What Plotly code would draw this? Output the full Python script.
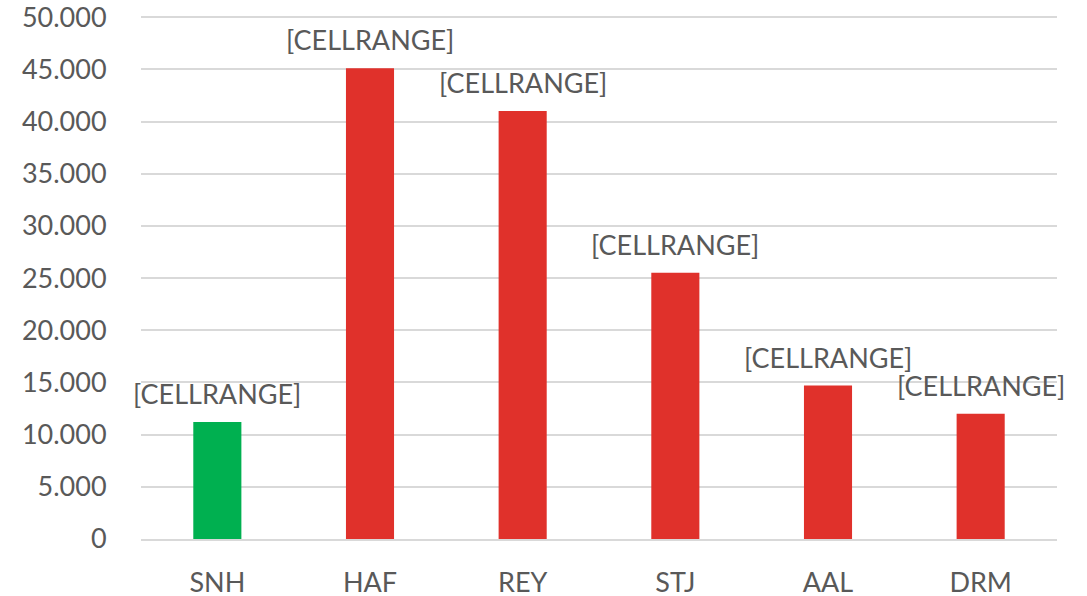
import plotly.graph_objects as go

categories = ["SNH", "HAF", "REY", "STJ", "AAL", "DRM"]
values = [11200, 45100, 41000, 25500, 14700, 12000]
colors = ["#00B050", "#E0312B", "#E0312B", "#E0312B", "#E0312B", "#E0312B"]
labels = ["[CELLRANGE]"] * 6
tick_vals = [0, 5000, 10000, 15000, 20000, 25000, 30000, 35000, 40000, 45000, 50000]

font_family = "Lato"
text_color = "#595959"

fig = go.Figure()
fig.add_trace(go.Bar(
    x=categories, y=values, marker_color=colors, width=0.315,
    marker_line_width=0, hoverinfo="skip",
))
for c, v, t in zip(categories, values, labels):
    fig.add_annotation(x=c, y=v, text=t, showarrow=False, yanchor="bottom",
                       yshift=10, font=dict(family=font_family, size=27, color=text_color))

fig.update_layout(
    width=1087, height=596,
    margin=dict(l=141, r=30, t=14, b=57, autoexpand=False),
    paper_bgcolor="white", plot_bgcolor="white",
    separators=",.",
    showlegend=False,
    font=dict(family=font_family, color=text_color),
)
fig.update_yaxes(
    range=[0, 50300], tickvals=tick_vals, tickformat=",d",
    showgrid=True, gridcolor="#D9D9D9", gridwidth=1.5, zeroline=False,
    showline=False, tickfont=dict(size=27, color=text_color, family=font_family),
    ticks="outside", ticklen=28, tickcolor="rgba(0,0,0,0)", automargin=False,
    ticklabeloverflow="allow",
)
fig.update_xaxes(
    range=[-0.5, 5.5],
    showgrid=False, showline=True, linecolor="#D9D9D9", linewidth=1.5,
    tickfont=dict(size=27, color=text_color, family=font_family),
    ticks="outside", ticklen=19, tickcolor="rgba(0,0,0,0)", automargin=False,
)
fig.write_html("out.html", config={"displayModeBar": False},
               post_script="document.body.style.margin='0';")
